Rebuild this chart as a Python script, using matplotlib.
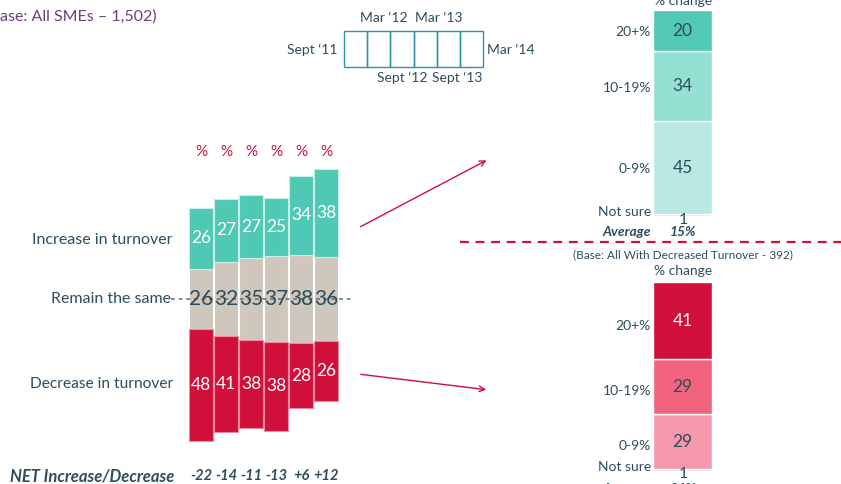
import matplotlib
matplotlib.use("Agg")
import matplotlib.pyplot as plt
from matplotlib.patches import Rectangle

plt.rcParams['font.family'] = ['Lato', 'DejaVu Sans']

# data
waves = ["Sept \u201811", "Mar \u201812", "Sept \u201812", "Mar \u201813", "Sept \u201813", "Mar \u201814"]
increase = [26, 27, 27, 25, 34, 38]
remain = [26, 32, 35, 37, 38, 36]
decrease = [48, 41, 38, 38, 28, 26]
net_labels = ["-22", "-14", "-11", "-13", "+6", "+12"]

bands = ["Not sure", "0-9%", "10-19%", "20+%"]
inc_split = [1, 45, 34, 20]
dec_split = [1, 29, 29, 41]
inc_avg = "15%"
dec_avg = "24%"

TEAL = "#4fc9b4"
BEIGE = "#cfc7bb"
RED = "#d0103a"
DARK = "#2e4d5c"
inc_cols = ["#dcdcdc", "#b9e9e1", "#94e0d3", "#52c9b4"]
dec_cols = ["#dcdcdc", "#f598ab", "#f2637f", "#d0103a"]

W, H = 841, 484
fig = plt.figure(figsize=(W / 100, H / 100), dpi=100)


def px_axes(x0, y0, x1, y1, **kw):
    return fig.add_axes([x0 / W, 1 - y1 / H, (x1 - x0) / W, (y1 - y0) / H], **kw)


# overlay in pixel coordinates for annotations (no background, drawn on top)
ov = px_axes(0, 0, W, H)
ov.set_xlim(0, W)
ov.set_ylim(H, 0)
ov.axis("off")
ov.set_zorder(5)

# main diverging chart
ax = px_axes(176, 136, 351, 462)
ax.set_xlim(-1, 6)
ax.set_ylim(-70, 70)
ax.axis("off")
x = range(len(waves))
neu_bottom = [-r / 2 for r in remain]
inc_bottom = [r / 2 for r in remain]
dec_bottom = [-r / 2 - d for r, d in zip(remain, decrease)]
ax.bar(x, remain, 0.93, bottom=neu_bottom, color=BEIGE, edgecolor="white", linewidth=0.8)
ax.bar(x, increase, 0.93, bottom=inc_bottom, color=TEAL, edgecolor="#c8efe7", linewidth=0.8)
ax.bar(x, decrease, 0.93, bottom=dec_bottom, color=RED, edgecolor="#f08aa0", linewidth=0.8)
ax.plot([-1.2, 6.0], [0, 0], ls=(0, (2.5, 2.5)), color="#55707c", lw=1.1, clip_on=False)
for i in x:
    ax.text(i, inc_bottom[i] + increase[i] / 2, str(increase[i]), ha="center", va="center",
            color="white", fontsize=12.5)
    ax.text(i, 0, str(remain[i]), ha="center", va="center", color=DARK, fontsize=15)
    ax.text(i, dec_bottom[i] + decrease[i] / 2, str(decrease[i]), ha="center", va="center",
            color="white", fontsize=12.5)
    ax.text(i, 63, "%", ha="center", va="center", color=RED, fontsize=11)
    ax.text(i, -76, net_labels[i], ha="center", va="center", color=DARK, fontsize=10.5,
            fontweight="bold", style="italic", clip_on=False)

ov.text(173, 240, "Increase in turnover", ha="right", va="center", color=DARK, fontsize=11.5)
ov.text(171, 299, "Remain the same", ha="right", va="center", color=DARK, fontsize=11.5)
ov.text(173, 384, "Decrease in turnover", ha="right", va="center", color=DARK, fontsize=11.2)
ov.text(10, 476, "NET Increase/Decrease", ha="left", va="center", color=DARK, fontsize=12,
        fontweight="bold", style="italic")
ov.text(0, 17, "ase: All SMEs \u2013 1,502)", ha="left", va="center", color="#6e3d7e", fontsize=11.5)

# timeline
for k in range(6):
    ov.add_patch(Rectangle((344 + k * 23.2, 31), 23.2, 36, fill=False, ec="#2f93ad", lw=1))
ov.text(338, 50, waves[0], ha="right", va="center", color=DARK, fontsize=10)
ov.text(487, 50, waves[5], ha="left", va="center", color=DARK, fontsize=10)
ov.text(384, 18, waves[1], ha="center", va="center", color=DARK, fontsize=10)
ov.text(439, 18, waves[3], ha="center", va="center", color=DARK, fontsize=10)
ov.text(402, 78, waves[2], ha="center", va="center", color=DARK, fontsize=10)
ov.text(457, 78, waves[4], ha="center", va="center", color=DARK, fontsize=10)

# arrows
ov.annotate("", xy=(489, 159), xytext=(358, 228),
            arrowprops=dict(arrowstyle="->", color=RED, lw=1, mutation_scale=10))
ov.annotate("", xy=(489, 390), xytext=(358, 374),
            arrowprops=dict(arrowstyle="->", color=RED, lw=1, mutation_scale=10))

# separator
ov.plot([460, W], [242, 242], color=RED, lw=1.6, ls=(0, (4, 3)))


def split_bar(y0, y1, vals, cols, ylab):
    b = px_axes(653, y0, 712, y1)
    b.set_xlim(0, 1)
    b.set_ylim(0, 100)
    b.axis("off")
    bottom = 0
    for j, (v, c) in enumerate(zip(vals, cols)):
        b.bar(0.5, v, 1, bottom=bottom, color=c, edgecolor="white", linewidth=1)
        if j > 0:
            tc = "white" if c == RED else DARK
            b.text(0.5, bottom + v / 2, str(v), ha="center", va="center", color=tc, fontsize=12.5)
        bottom += v
    for lab, yy in zip(bands, ylab):
        ov.text(651, yy, lab, ha="right", va="center", color=DARK, fontsize=10)
    return b


split_bar(10, 216, inc_split, inc_cols, [212, 169, 88, 32])
ov.text(683, 220, str(inc_split[0]), ha="center", va="center", color=DARK, fontsize=11.5)
ov.text(651, 232, "Average", ha="right", va="center", color=DARK, fontsize=10,
        fontweight="bold", style="italic")
ov.text(683, 232, inc_avg, ha="center", va="center", color=DARK, fontsize=10,
        fontweight="bold", style="italic")
ov.text(683, 1, "% change", ha="center", va="center", color=DARK, fontsize=10)

split_bar(282, 471, dec_split, dec_cols, [467, 446, 391, 326])
ov.text(683, 255, "(Base: All With Decreased Turnover - 392)", ha="center", va="center",
        color=DARK, fontsize=8.5)
ov.text(683, 271, "% change", ha="center", va="center", color=DARK, fontsize=10)
ov.text(683, 474, str(dec_split[0]), ha="center", va="center", color=DARK, fontsize=11.5)
ov.text(651, 489, "Average", ha="right", va="center", color=DARK, fontsize=10,
        fontweight="bold", style="italic")
ov.text(683, 489, dec_avg, ha="center", va="center", color=DARK, fontsize=10,
        fontweight="bold", style="italic")

fig.savefig("out.png", dpi=100)
